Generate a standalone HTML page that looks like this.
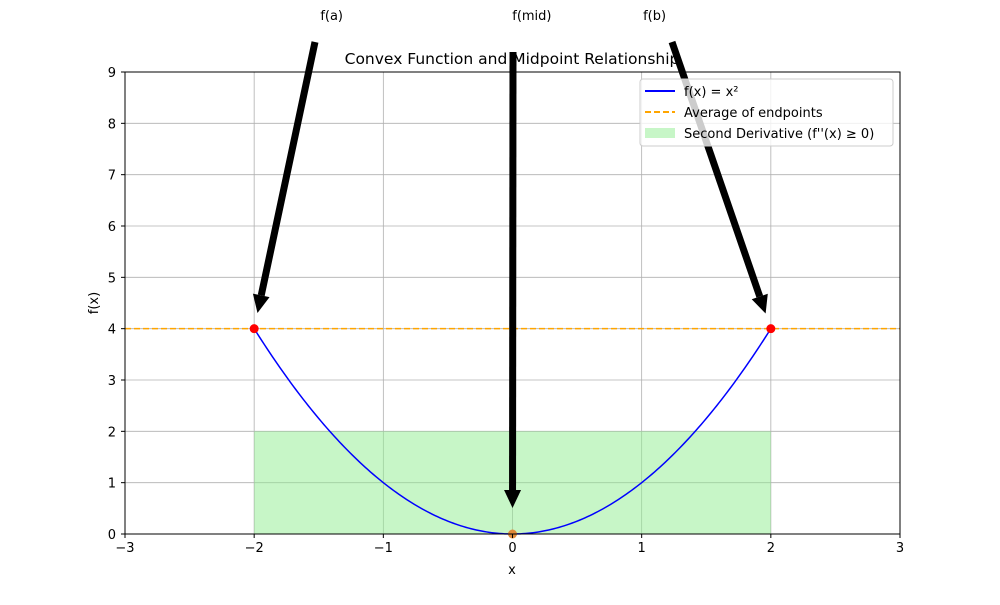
<!DOCTYPE html>
<html><head><meta charset="utf-8"><style>
body{margin:0;background:#fff}
svg text{font-family:"DejaVu Sans","Liberation Sans",sans-serif}
</style></head><body>
<svg id="chart" width="1000" height="600" xmlns="http://www.w3.org/2000/svg">
<rect width="1000" height="600" fill="#fff"/>
<g id="grid"></g>
<g id="fill"></g>
<g id="lines"></g>
<g id="arrows"></g>
<rect x="125" y="72" width="775" height="462" fill="none" stroke="#000" stroke-width="1"/>
<g id="ticks"></g>
<text x="512" y="64" font-size="15.5" text-anchor="middle">Convex Function and Midpoint Relationship</text>
<text x="512" y="574" font-size="13" text-anchor="middle">x</text>
<text x="98" y="303" font-size="13" text-anchor="middle" transform="rotate(-90 98 303)">f(x)</text>
<g>
<rect x="640" y="79" width="253" height="67" rx="3" fill="#fff" fill-opacity="0.8" stroke="#ccc"/>
<line x1="645" y1="91" x2="675" y2="91" stroke="#0000ff" stroke-width="2"/>
<text x="684" y="96" font-size="13">f(x) = x²</text>
<line x1="645" y1="112" x2="675" y2="112" stroke="orange" stroke-width="2" stroke-dasharray="6,3"/>
<text x="684" y="117" font-size="13">Average of endpoints</text>
<rect x="645" y="128" width="30" height="10" fill="#90ee90" fill-opacity="0.5"/>
<text x="684" y="138" font-size="13">Second Derivative (f''(x) ≥ 0)</text>
</g>
</svg>
<script>
const xTicks=[-3,-2,-1,0,1,2,3];
const yTicks=[0,1,2,3,4,5,6,7,8,9];
const endpoints=[-2,2];
const fillRange=[-2,2];
const fillHeight=2;
const annLabels=["f(a)","f(mid)","f(b)"];
const annTargetX=[-2,0,2];
const annTargetY=[4,0,4];
const annTextX=[-1.4,0.15,1.1];
const ns="http://www.w3.org/2000/svg";
const X=v=>125+(v+3)*775/6, Y=v=>534-v*462/9;
function mk(t,a,p){const e=document.createElementNS(ns,t);for(const k in a)e.setAttribute(k,a[k]);p.appendChild(e);return e;}
const g=document.getElementById('grid'),tk=document.getElementById('ticks');
xTicks.forEach(v=>{const l=mk('line',{x1:X(v),x2:X(v),y1:72,y2:534,stroke:'#b0b0b0','stroke-width':0.8},g);

mk('line',{x1:X(v),x2:X(v),y1:534,y2:538,stroke:'#000'},tk);
const t=mk('text',{x:X(v),y:552,'font-size':13,'text-anchor':'middle'},tk);t.textContent=v<0?'\u2212'+(-v):v;
});
yTicks.forEach(v=>{const l=mk('line',{x1:125,x2:900,y1:Y(v),y2:Y(v),stroke:'#b0b0b0','stroke-width':0.8},g);

mk('line',{x1:121,x2:125,y1:Y(v),y2:Y(v),stroke:'#000'},tk);
const t=mk('text',{x:116,y:Y(v)+5,'font-size':13,'text-anchor':'end'},tk);t.textContent=v;
});
const fr=mk('rect',{x:X(fillRange[0]),y:Y(fillHeight),width:X(fillRange[1])-X(fillRange[0]),height:Y(0)-Y(fillHeight),fill:'#90ee90','fill-opacity':0.5},document.getElementById('fill'));

const L=document.getElementById('lines');
const fa=endpoints[0]**2,fb=endpoints[1]**2,avg=(fa+fb)/2;
const al=mk('line',{x1:125,x2:900,y1:Y(avg),y2:Y(avg),stroke:'orange','stroke-width':1.5,'stroke-dasharray':'6,3'},L);

let d='';for(let i=0;i<=200;i++){const x=endpoints[0]+(endpoints[1]-endpoints[0])*i/200;d+=(i?'L':'M')+X(x)+','+Y(x*x);}
const cp=mk('path',{d,fill:'none',stroke:'#0000ff','stroke-width':1.5},L);

endpoints.forEach(v=>{const c=mk('circle',{cx:X(v),cy:Y(v*v),r:4.5,fill:'red'},L);
});
const mid=(endpoints[0]+endpoints[1])/2;
const mc=mk('circle',{cx:X(mid),cy:Y(mid*mid),r:4.5,fill:'#e08a3a'},L);

const A=document.getElementById('arrows');
annLabels.forEach((lab,i)=>{
 const tx=X(annTextX[i]),ty=16;
 const t=mk('text',{x:tx,y:ty+4,'font-size':13,'text-anchor':'middle'},A);t.textContent=lab;
 
 const sy=i===1?52:42;
 const ex=X(annTargetX[i]),ey=Y(annTargetY[i]);
 const s2x=i===0?315:i===1?513:672,s2y=sy;
 const ddx=ex-s2x,ddy=ey-s2y,ll=Math.hypot(ddx,ddy),vx=ddx/ll,vy=ddy/ll;
 const shrink=i===1?26:16;
 const tipx=s2x+vx*(ll-shrink),tipy=s2y+vy*(ll-shrink);
 const bx=tipx-vx*18,by=tipy-vy*18,px=-vy,py=vx;
 const ln=mk('line',{x1:s2x,y1:s2y,x2:bx,y2:by,stroke:'#000','stroke-width':7},A);
 
 mk('polygon',{points:`${tipx},${tipy} ${bx+px*8.5},${by+py*8.5} ${bx-px*8.5},${by-py*8.5}`,fill:'#000'},A);
});
</script>
</body></html>
